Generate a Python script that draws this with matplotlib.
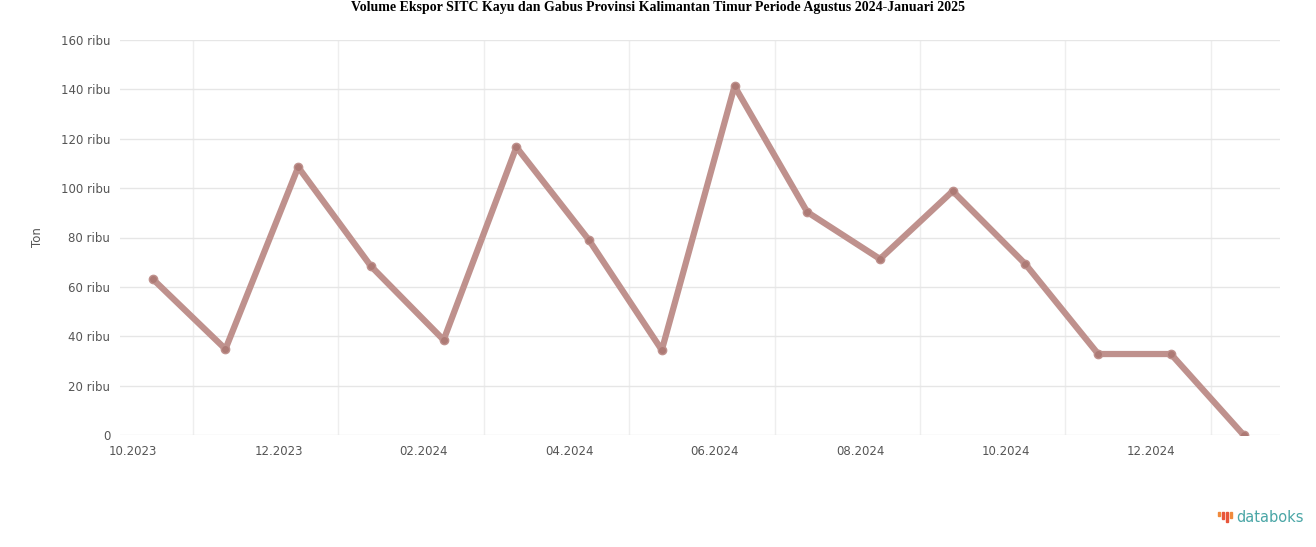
import matplotlib
matplotlib.use("Agg")
import matplotlib.pyplot as plt
import matplotlib.patches as mpatches
import numpy as np

# Volume ekspor (ribu ton)
volumes = [63.2, 34.8, 108.5, 68.4, 38.5, 116.6, 78.9, 34.4,
           141.3, 90.3, 71.3, 98.8, 69.2, 32.8, 32.8, 0.0]
tick_labels = ["10.2023", "12.2023", "02.2024", "04.2024",
               "06.2024", "08.2024", "10.2024", "12.2024"]
y_ticks = [0, 20, 40, 60, 80, 100, 120, 140, 160]
y_labels = ["0"] + ["%d ribu" % v for v in y_ticks[1:]]

TITLE = "Volume Ekspor SITC Kayu dan Gabus Provinsi Kalimantan Timur Periode Agustus 2024-Januari 2025"
LINE_COLOR = "#bf918d"

fig = plt.figure(figsize=(13.16, 5.47), dpi=100)
ax = fig.add_axes([120 / 1316, 1 - 435 / 547, 1160 / 1316, 395 / 547])

x = np.arange(len(volumes))
ax.plot(x, volumes, color=LINE_COLOR, lw=4.5, solid_capstyle="round",
        solid_joinstyle="round", marker="o", markersize=6,
        markerfacecolor="#ad7a75", markeredgecolor=LINE_COLOR, zorder=3)

ax.set_xlim(-0.45, 15.5)
ax.set_ylim(0, 160)

# labels sit a bit left of the data points, grid lines between them
ax.set_xticks(np.arange(0, 16, 2) - 0.27)
ax.set_xticklabels(tick_labels, fontsize=8.5, color="#555555")
ax.set_xticks(np.arange(0, 16, 2) + 0.55, minor=True)
ax.set_yticks(y_ticks)
ax.set_yticklabels(y_labels, fontsize=8.5, color="#555555")
ax.tick_params(axis="both", which="both", length=0, pad=7)

ax.grid(axis="y", color="#e6e6e6", lw=1)
ax.grid(axis="x", which="minor", color="#eeeeee", lw=1)
for s in ax.spines.values():
    s.set_visible(False)

ax.set_ylabel("Ton", fontsize=8.5, color="#555555", labelpad=12)

fig.text(0.5, 1 - 8 / 547, TITLE, ha="center", va="center",
         fontsize=10, fontweight="bold", family="Liberation Serif")

# databoks logo
fig.text(1236 / 1316, 1 - 518 / 547, "databoks", ha="left", va="center",
         fontsize=10.5, color="#4aa6a6", family="DejaVu Sans")
bars = [(1218, 4, "#f08a3c"), (1222, 7, "#e8553a"), (1226, 10, "#e8553a"),
        (1230, 6, "#f08a3c")]
for bx, bh, bc in bars:
    fig.patches.append(mpatches.Rectangle(
        (bx / 1316, 1 - (512 + bh) / 547), 2 / 1316, bh / 547,
        transform=fig.transFigure, color=bc))

fig.savefig("out.png", dpi=100)
